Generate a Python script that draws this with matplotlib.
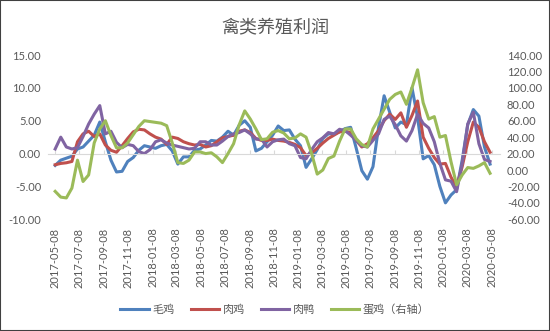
import matplotlib
matplotlib.use('Agg')
import matplotlib.pyplot as plt
import matplotlib.dates as mdates
import pandas as pd
from matplotlib.ticker import FuncFormatter, MultipleLocator
from matplotlib.patches import Rectangle

plt.rcParams['font.family'] = ['Lato', 'Noto Sans CJK SC', 'DejaVu Sans']

# 双周数据 2017-05-08 起
dates = pd.date_range('2017-05-08', periods=79, freq='14D')

maoji = [-1.8, -1.0, -0.7, -0.4, 0.7, 1.0, 1.9, 2.8, 4.8, 1.8,
         -1.0, -2.8, -2.7, -1.2, -0.6, 0.5, 1.2, 1.0, 0.8, 1.2,
         1.4, 0.4, -1.6, -0.5, -0.5, 0.5, 0.7, 1.3, 2.0, 1.9,
         2.5, 3.4, 2.8, 4.3, 5.0, 4.0, 0.4, 0.8, 1.8, 2.8,
         4.2, 3.5, 3.6, 2.2, 1.2, -2.1, -0.8, 0.6, 2.3, 3.0,
         3.0, 3.3, 3.8, 4.0, 0.8, -2.6, -3.9, -2.0, 4.0, 8.8,
         6.3, 3.9, 4.8, 4.4, 10.0, 5.5, -0.8, -0.3, -1.7, -5.0,
         -7.5, -6.3, -5.5, -1.0, 4.4, 6.7, 5.7, 1.0, -1.6]

rouji = [-1.7, -1.5, -1.4, -1.2, 1.8, 3.0, 3.4, 2.6, 3.0, 1.3,
         0.5, 0.2, 1.2, 2.3, 3.3, 3.7, 3.6, 3.0, 2.5, 2.2,
         1.4, 2.5, 2.3, 1.8, 1.5, 1.3, 1.4, 1.0, 1.2, 1.8,
         2.4, 2.6, 2.8, 3.4, 3.6, 3.2, 2.3, 2.0, 2.0, 2.2,
         2.0, 1.9, 1.7, 1.4, 0.9, -0.3, 0.1, 0.8, 1.6, 2.3,
         2.8, 3.3, 3.4, 3.2, 2.0, 1.0, 1.5, 2.4, 3.5, 5.0,
         6.0, 5.2, 6.2, 4.0, 5.8, 8.0, 2.5, 0.8, -0.6, -1.6,
         -1.5, -3.6, -5.0, -2.0, 1.8, 4.8, 4.0, 1.8, 0.2]

rouya = [0.7, 2.5, 1.0, 0.7, 0.9, 2.6, 4.5, 6.0, 7.3, 3.0,
         3.4, 1.7, 0.9, 1.4, 1.2, 0.3, 0.0, 0.6, 1.8, 2.1,
         1.6, 1.3, 1.1, 0.9, 0.7, 0.8, 1.8, 1.8, 1.3, 1.3,
         1.9, 2.6, 3.0, 3.2, 3.6, 3.0, 2.2, 2.2, 1.0, 1.8,
         2.1, 2.2, 1.5, 1.2, -0.6, -0.8, 0.6, 1.8, 2.4, 3.2,
         3.0, 3.7, 3.5, 2.8, 2.0, 1.2, 1.0, 2.0, 3.0, 5.2,
         5.7, 4.4, 2.7, 1.9, 3.5, 6.0, 4.6, 3.9, 1.8, -1.5,
         -4.0, -4.2, -5.8, -1.5, 4.5, 6.3, 1.5, -0.9, -1.2]

danji = [-26, -33, -34, -22, 12, -14, -6, 33, 50, 60,
         42, 27, 27, 33, 43, 53, 60, 59, 58, 57,
         54, 33, 9, 8, 12, 22, 22, 20, 21, 16,
         9, 20, 32, 55, 72, 62, 50, 37, 38, 46,
         48, 45, 38, 39, 44, 40, 20, -5, 0, 14,
         17, 35, 50, 50, 38, 31, 28, 50, 62, 74,
         86, 92, 95, 80, 100, 122, 82, 62, 65, 40,
         42, 10, -18, -6, 3, 2, 5, 9, -4]

names = ['毛鸡', '肉鸡', '肉鸭', '蛋鸡（右轴）']
colors = ['#4F81BD', '#C0504D', '#8064A2', '#9BBB59']
grey = '#595959'

fig = plt.figure(figsize=(5.5, 3.31), dpi=100)
ax = fig.add_axes([0.0873, 0.3375, 0.8218, 0.4963])
ax2 = ax.twinx()

lines = []
for vals, c, n in zip([maoji, rouji, rouya], colors[:3], names[:3]):
    l, = ax.plot(dates, vals, color=c, lw=2.2, label=n, solid_joinstyle='round')
    lines.append(l)
l, = ax2.plot(dates, danji, color=colors[3], lw=2.2, label=names[3], solid_joinstyle='round')
lines.append(l)

ax.set_ylim(-10, 15)
ax.yaxis.set_major_locator(MultipleLocator(5))
ax.yaxis.set_major_formatter(FuncFormatter(lambda y, _: f'{y:.2f}'))
ax2.set_ylim(-60, 140)
ax2.yaxis.set_major_locator(MultipleLocator(20))
ax2.yaxis.set_major_formatter(FuncFormatter(lambda y, _: f'{y:.2f}'))

ax.set_xlim(pd.Timestamp('2017-04-20'), pd.Timestamp('2020-05-29'))
ticks = pd.date_range('2017-05-01', '2020-05-31', freq='2MS') + pd.Timedelta(days=7)

# 横轴在 0 处，标签放在底部
ax.spines['bottom'].set_position(('data', 0))
ax.spines['bottom'].set_color('#D9D9D9')
ax.set_xticks(ticks)
ax.tick_params(axis='x', labelbottom=False, length=3, color='#D9D9D9', direction='in')
sec = ax.secondary_xaxis(0)
sec.set_xticks(ticks)
sec.xaxis.set_major_formatter(mdates.DateFormatter('%Y-%m-%d'))
sec.tick_params(axis='x', length=0, pad=6, labelsize=8, labelcolor=grey, rotation=90)
sec.spines['bottom'].set_visible(False)

for s in ['top', 'left', 'right']:
    ax.spines[s].set_visible(False)
for s in ax2.spines.values():
    s.set_visible(False)
ax.tick_params(axis='y', length=0, labelsize=8, labelcolor=grey, pad=5)
ax2.tick_params(axis='y', length=0, labelsize=8, labelcolor=grey, pad=5)

fig.text(0.5, 1 - 27 / 331, '禽类养殖利润', ha='center', va='center', fontsize=13,
         color=grey, family=['Noto Sans CJK SC'])

fig.legend(handles=lines, loc='center', bbox_to_anchor=(0.5, 1 - 309 / 331), ncol=4,
           frameon=False, fontsize=8, labelcolor=grey, handlelength=2.6,
           handletextpad=0.3, columnspacing=1.4)

fig.patches.append(Rectangle((0, 0), 1, 1, transform=fig.transFigure, fill=False,
                             edgecolor='#404040', lw=1.5))

fig.savefig('out.png', dpi=100)
